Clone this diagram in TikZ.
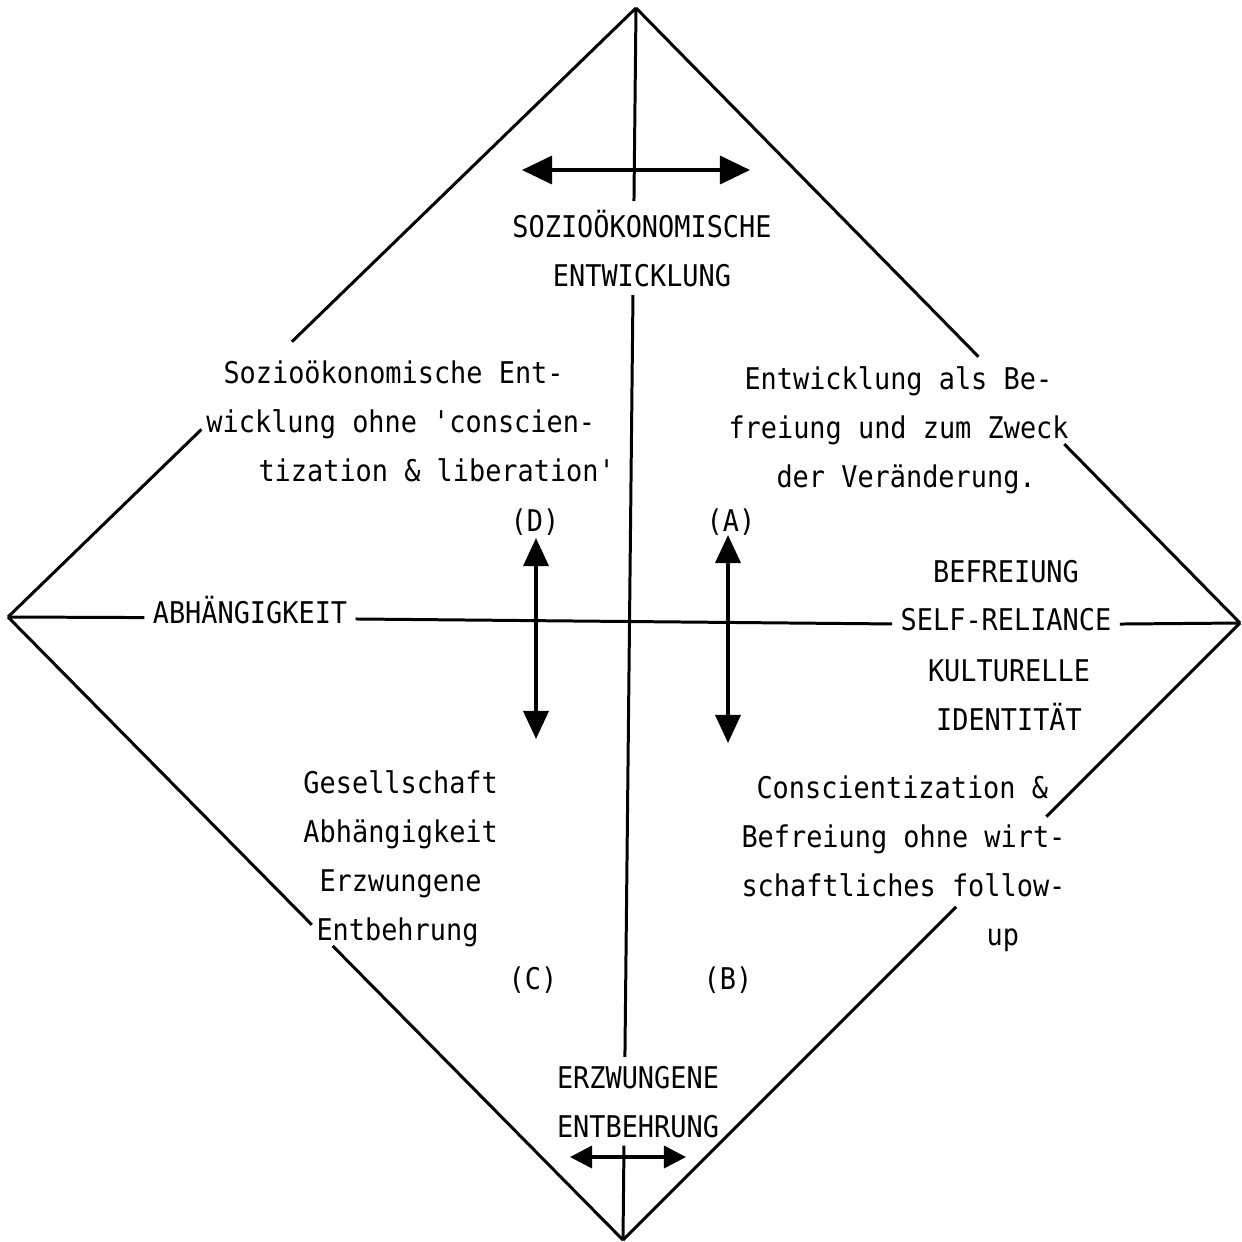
\documentclass[tikz,border=0pt]{standalone}
\usepackage{fontspec}
\setmonofont{DejaVu Sans Mono}[FakeStretch=0.9]
\usetikzlibrary{arrows.meta, calc}

\begin{document}
\begin{tikzpicture}[x=0.01cm, y=-0.01cm, line width=0.85pt,
  every node/.style={font=\ttfamily\fontsize{8.5}{13.9}\selectfont},
  txt/.style={inner sep=0pt},
  axislbl/.style={inner xsep=2pt, inner ysep=0pt, text height=1.5mm, text depth=0.5mm},
  bigarr/.style={{Triangle[length=3mm, width=2.8mm]}-{Triangle[length=3mm, width=2.8mm]}, line width=1pt},
  midarr/.style={{Triangle[length=2.8mm, width=2.5mm]}-{Triangle[length=2.8mm, width=2.5mm]}, line width=1pt},
  smallarr/.style={{Triangle[length=2.2mm, width=2.2mm]}-{Triangle[length=2.2mm, width=2.2mm]}, line width=1pt}]
  \useasboundingbox (0,0) rectangle (1242,1242);

  % corners of the diamond
  \coordinate (T) at (636,8);
  \coordinate (L) at (8,617);
  \coordinate (R) at (1240,623);
  \coordinate (B) at (623,1240);

  % axis labels (base = last line)
  \node[txt, inner ysep=2pt, anchor=base, align=center] (soz) at (642,286) {SOZIOÖKONOMISCHE\\ENTWICKLUNG};
  \node[txt, inner ysep=2pt, anchor=base, align=center] (erz) at (638,1137) {ERZWUNGENE\\ENTBEHRUNG};
  \node[axislbl] (abh) at (250,618) {ABHÄNGIGKEIT};
  \node[axislbl] (selfrel) at (1006,625) {SELF-RELIANCE};
  \node[txt, anchor=base] (befr) at (1006,582) {BEFREIUNG};
  \node[txt, anchor=base, align=center] (kult) at (1009,730) {KULTURELLE\\IDENTITÄT};

  % the four fields
  \node[txt, anchor=base west, align=left] (fieldD) at (205,481)
    {\hspace{0.17cm}Sozioökonomische Ent-\\
     wicklung ohne 'conscien-\\
     \hspace{0.52cm}tization \& liberation'};
  \node[txt, anchor=base west, align=left] (fieldA) at (727,487)
    {\hspace{0.16cm}Entwicklung als Be-\\
     freiung und zum Zweck\\
     \hspace{0.48cm}der Veränderung.};
  \node[txt, anchor=base west, align=left] (fieldC) at (302,940)
    {Gesellschaft\\
     Abhängigkeit\\
     \hspace{0.16cm}Erzwungene\\
     \hspace{0.13cm}Entbehrung};
  \node[txt, anchor=base west, align=left] (fieldB) at (740,945)
    {\hspace{0.15cm}Conscientization \&\\
     Befreiung ohne wirt-\\
     schaftliches follow-\\
     \hspace{2.45cm}up};

  \node[txt, anchor=base] (labD) at (535,531) {(D)};
  \node[txt, anchor=base] (labA) at (731,531) {(A)};
  \node[txt, anchor=base] (labC) at (533,989) {(C)};
  \node[txt, anchor=base] (labB) at (728,989) {(B)};

  % diamond, broken where the text runs over it
  \coordinate (ul1) at ($(L)!0.308!(T)$);
  \coordinate (ul2) at ($(L)!0.452!(T)$);
  \coordinate (ur1) at ($(T)!0.567!(R)$);
  \coordinate (ur2) at ($(T)!0.709!(R)$);
  \coordinate (lr1) at ($(R)!0.314!(B)$);
  \coordinate (lr2) at ($(R)!0.46!(B)$);
  \coordinate (ll1) at ($(L)!0.494!(B)$);
  \coordinate (ll2) at ($(L)!0.528!(B)$);
  \draw (L) -- (ul1);
  \draw (ul2) -- (T);
  \draw (T) -- (ur1);
  \draw (ur2) -- (R);
  \draw (R) -- (lr1);
  \draw (lr2) -- (B);
  \draw (B) -- (ll2);
  \draw (ll1) -- (L);

  % axes
  \draw (T) -- ($(T)!(soz.north)!(B)$);
  \draw ($(T)!(soz.south)!(B)$) -- ($(T)!(erz.north)!(B)$);
  \draw ($(T)!(erz.south)!(B)$) -- (B);
  \draw (L) -- (abh);
  \draw (abh) -- (selfrel);
  \draw (selfrel) -- (R);

  % arrows
  \coordinate (topL) at (522,170);
  \coordinate (topR) at (750,170);
  \coordinate (botL) at (570,1157);
  \coordinate (botR) at (686,1157);
  \coordinate (dUp) at (536,538);
  \coordinate (dDn) at (536,739);
  \coordinate (aUp) at (728,535);
  \coordinate (aDn) at (728,743);
  \draw[bigarr] (topL) -- (topR);
  \draw[smallarr] (botL) -- (botR);
  \draw[midarr] (dUp) -- (dDn);
  \draw[midarr] (aUp) -- (aDn);
\end{tikzpicture}
\end{document}
